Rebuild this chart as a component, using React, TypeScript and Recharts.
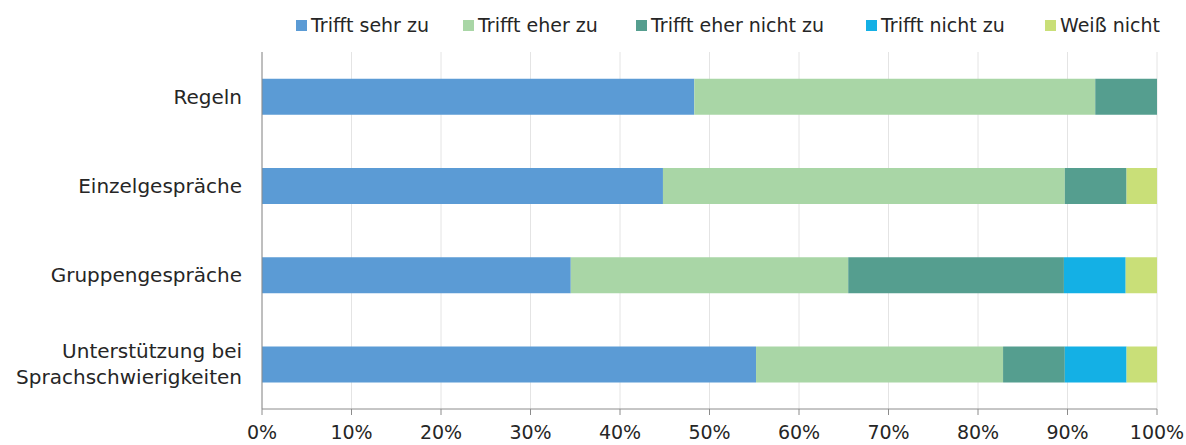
import React from 'react';
import { BarChart, Bar, XAxis, YAxis, CartesianGrid } from 'recharts';

const categories = ['Regeln', 'Einzelgespräche', 'Gruppengespräche', 'Unterstützung bei\nSprachschwierigkeiten'];
const sehrZu = [48.3, 44.8, 34.5, 55.2];
const eherZu = [44.8, 44.9, 31.0, 27.6];
const eherNicht = [6.9, 6.9, 24.1, 6.9];
const nichtZu = [0, 0, 6.9, 6.9];
const weissNicht = [0, 3.4, 3.5, 3.4];
const xTicks = [0, 10, 20, 30, 40, 50, 60, 70, 80, 90, 100];

const SERIES = [
  { key: 'sehrZu', name: 'Trifft sehr zu', color: '#5B9BD5' },
  { key: 'eherZu', name: 'Trifft eher zu', color: '#A9D6A6' },
  { key: 'eherNicht', name: 'Trifft eher nicht zu', color: '#559E8F' },
  { key: 'nichtZu', name: 'Trifft nicht zu', color: '#14B0E5' },
  { key: 'weissNicht', name: 'Weiß nicht', color: '#C9DF78' },
];

const data = categories.map((cat, i) => ({
  cat,
  sehrZu: sehrZu[i],
  eherZu: eherZu[i],
  eherNicht: eherNicht[i],
  nichtZu: nichtZu[i],
  weissNicht: weissNicht[i],
}));

const FONT = '"DejaVu Sans", sans-serif';

const CatTick = ({ x, y, payload }: any) => {
  const lines = String(payload.value).split('\n');
  const lh = 26;
  const start = -((lines.length - 1) * lh) / 2;
  return (
    <text x={x} y={y} textAnchor="end" fill="#262626" fontSize={20} fontFamily={FONT}>
      {lines.map((l, i) => (
        <tspan key={i} x={x} dy={i === 0 ? start + 7 : lh}>{l}</tspan>
      ))}
    </text>
  );
};

const legendX = [296, 463, 636, 866, 1045];

export default function App() {
  return (
    <div style={{ position: 'absolute', left: 0, top: 0, width: 1186, height: 445, background: '#fff', overflow: 'hidden' }}>
      {SERIES.map((s, i) => (
        <div key={s.key} style={{ position: 'absolute', left: legendX[i], top: 13, height: 24, display: 'flex', alignItems: 'center', fontFamily: FONT, fontSize: 19, color: '#262626', whiteSpace: 'nowrap' }}>
          <span style={{ width: 11, height: 11, background: s.color, display: 'inline-block', marginRight: 4 }} />
          {s.name}
        </div>
      ))}
      <BarChart
        width={1186}
        height={445}
        data={data}
        layout="vertical"
        margin={{ top: 52, right: 29, left: 0, bottom: 6 }}
        barCategoryGap="30%"
      >
        <CartesianGrid horizontal={false} stroke="#e4e4e4" />
        <XAxis
          type="number"
          domain={[0, 100]}
          ticks={xTicks}
          tickFormatter={(v) => `${v}%`}
          axisLine={{ stroke: '#8c8c8c' }}
          tickLine={{ stroke: '#8c8c8c' }}
          tickSize={6}
          height={30}
          tick={{ fill: '#262626', fontSize: 19, fontFamily: FONT, dy: 9 }}
          allowDataOverflow
        />
        <YAxis
          type="category"
          dataKey="cat"
          width={262}
          axisLine={{ stroke: '#8c8c8c' }}
          tickLine={false}
          tickMargin={14}
          tick={<CatTick />}
        />
        {SERIES.map((s) => (
          <Bar key={s.key} dataKey={s.key} name={s.name} stackId="a" fill={s.color} isAnimationActive={false} />
        ))}
      </BarChart>
    </div>
  );
}
